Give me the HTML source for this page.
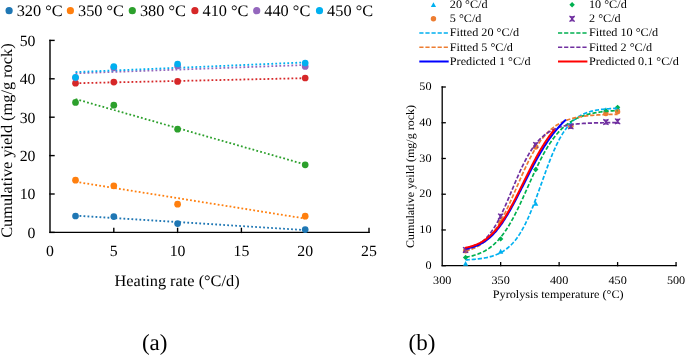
<!DOCTYPE html>
<html><head><meta charset="utf-8"><title>Cumulative yield charts</title>
<style>
html,body{margin:0;padding:0;background:#fff;}
body{width:685px;height:355px;overflow:hidden;font-family:"Liberation Serif",serif;}
svg{display:block;will-change:transform;text-rendering:geometricPrecision;}
</style></head><body>
<svg width="685" height="355" viewBox="0 0 685 355">
<rect width="685" height="355" fill="#fff"/>
<g stroke="#000" stroke-width="1.4" fill="none" stroke-linecap="square">
<path d="M50.0,40.40 V232.4 H369.00"/>
<path d="M50.0,232.40 h4"/>
<path d="M50.0,194.00 h4"/>
<path d="M50.0,155.60 h4"/>
<path d="M50.0,117.20 h4"/>
<path d="M50.0,78.80 h4"/>
<path d="M50.0,40.40 h4"/>
<path d="M113.80,232.4 v-4"/>
<path d="M177.60,232.4 v-4"/>
<path d="M241.40,232.4 v-4"/>
<path d="M305.20,232.4 v-4"/>
<path d="M369.00,232.4 v-4"/>
</g>
<g font-family='"Liberation Serif", serif' font-size="15.5" fill="#000">
<text transform="translate(35.50,237.70) scale(1.02,1)" text-anchor="end">0</text>
<text transform="translate(35.50,199.30) scale(1.02,1)" text-anchor="end">10</text>
<text transform="translate(35.50,160.90) scale(1.02,1)" text-anchor="end">20</text>
<text transform="translate(35.50,122.50) scale(1.02,1)" text-anchor="end">30</text>
<text transform="translate(35.50,84.10) scale(1.02,1)" text-anchor="end">40</text>
<text transform="translate(35.50,45.70) scale(1.02,1)" text-anchor="end">50</text>
<text transform="translate(50.00,256.20) scale(1.02,1)" text-anchor="middle">0</text>
<text transform="translate(113.80,256.20) scale(1.02,1)" text-anchor="middle">5</text>
<text transform="translate(177.60,256.20) scale(1.02,1)" text-anchor="middle">10</text>
<text transform="translate(241.40,256.20) scale(1.02,1)" text-anchor="middle">15</text>
<text transform="translate(305.20,256.20) scale(1.02,1)" text-anchor="middle">20</text>
<text transform="translate(369.00,256.20) scale(1.02,1)" text-anchor="middle">25</text>
</g>
<text font-family='"Liberation Serif", serif' font-size="16" transform="translate(177.00,285.80) scale(1.02,1)" text-anchor="middle">Heating rate (°C/d)</text>
<text font-family='"Liberation Serif", serif' font-size="16" transform="translate(12.0,140.6) rotate(-90) scale(1.02,1)" text-anchor="middle">Cumulative yield (mg/g rock)</text>
<path d="M75.52,215.65 L305.20,230.05" stroke="#1f77b4" stroke-width="1.8" stroke-dasharray="1.8 2.2" fill="none"/>
<path d="M75.52,181.80 L305.20,218.54" stroke="#ff7f0e" stroke-width="1.8" stroke-dasharray="1.8 2.2" fill="none"/>
<path d="M75.52,99.04 L305.20,164.49" stroke="#2ca02c" stroke-width="1.8" stroke-dasharray="1.8 2.2" fill="none"/>
<path d="M75.52,83.22 L305.20,78.15" stroke="#d62728" stroke-width="1.8" stroke-dasharray="1.8 2.2" fill="none"/>
<path d="M75.52,73.30 L305.20,65.00" stroke="#9467bd" stroke-width="1.8" stroke-dasharray="1.8 2.2" fill="none"/>
<path d="M75.52,72.10 L305.20,62.40" stroke="#00b0f0" stroke-width="1.8" stroke-dasharray="1.8 2.2" fill="none"/>
<circle cx="75.52" cy="216.00" r="3.35" fill="#1f77b4"/>
<circle cx="113.80" cy="216.60" r="3.35" fill="#1f77b4"/>
<circle cx="177.60" cy="223.60" r="3.35" fill="#1f77b4"/>
<circle cx="305.20" cy="229.60" r="3.35" fill="#1f77b4"/>
<circle cx="75.52" cy="180.20" r="3.35" fill="#ff7f0e"/>
<circle cx="113.80" cy="185.80" r="3.35" fill="#ff7f0e"/>
<circle cx="177.60" cy="204.20" r="3.35" fill="#ff7f0e"/>
<circle cx="305.20" cy="216.20" r="3.35" fill="#ff7f0e"/>
<circle cx="75.52" cy="102.40" r="3.35" fill="#2ca02c"/>
<circle cx="113.80" cy="105.20" r="3.35" fill="#2ca02c"/>
<circle cx="177.60" cy="129.20" r="3.35" fill="#2ca02c"/>
<circle cx="305.20" cy="164.80" r="3.35" fill="#2ca02c"/>
<circle cx="75.52" cy="83.20" r="3.35" fill="#d62728"/>
<circle cx="113.80" cy="82.10" r="3.35" fill="#d62728"/>
<circle cx="177.60" cy="81.40" r="3.35" fill="#d62728"/>
<circle cx="305.20" cy="78.00" r="3.35" fill="#d62728"/>
<circle cx="75.52" cy="77.80" r="3.35" fill="#9467bd"/>
<circle cx="113.80" cy="67.80" r="3.35" fill="#9467bd"/>
<circle cx="177.60" cy="66.00" r="3.35" fill="#9467bd"/>
<circle cx="305.20" cy="66.40" r="3.35" fill="#9467bd"/>
<circle cx="75.52" cy="77.30" r="3.35" fill="#00b0f0"/>
<circle cx="113.80" cy="66.60" r="3.35" fill="#00b0f0"/>
<circle cx="177.60" cy="64.00" r="3.35" fill="#00b0f0"/>
<circle cx="305.20" cy="63.00" r="3.35" fill="#00b0f0"/>
<g font-family='"Liberation Serif", serif' font-size="16">
<circle cx="9.1" cy="10.7" r="3.6" fill="#1f77b4"/>
<text transform="translate(16.70,15.90) scale(1.02,1)">320 °C</text>
<circle cx="70.4" cy="10.7" r="3.6" fill="#ff7f0e"/>
<text transform="translate(78.00,15.90) scale(1.02,1)">350 °C</text>
<circle cx="132.3" cy="10.7" r="3.6" fill="#2ca02c"/>
<text transform="translate(139.90,15.90) scale(1.02,1)">380 °C</text>
<circle cx="194.9" cy="10.7" r="3.6" fill="#d62728"/>
<text transform="translate(202.50,15.90) scale(1.02,1)">410 °C</text>
<circle cx="256.7" cy="10.7" r="3.6" fill="#9467bd"/>
<text transform="translate(264.30,15.90) scale(1.02,1)">440 °C</text>
<circle cx="319.5" cy="10.7" r="3.6" fill="#00b0f0"/>
<text transform="translate(327.10,15.90) scale(1.02,1)">450 °C</text>
</g>
<text font-family='"Liberation Serif", serif' font-size="23" transform="translate(154.70,350.20) scale(1.0,1)" text-anchor="middle">(a)</text>
<text font-family='"Liberation Serif", serif' font-size="23" transform="translate(422.00,350.20) scale(1.0,1)" text-anchor="middle">(b)</text>
<g stroke="#000" stroke-width="1.3" fill="none" stroke-linecap="square">
<path d="M442.2,87.00 V265.7 H676.06"/>
<path d="M442.2,265.70 h3"/>
<path d="M442.2,229.96 h3"/>
<path d="M442.2,194.22 h3"/>
<path d="M442.2,158.48 h3"/>
<path d="M442.2,122.74 h3"/>
<path d="M442.2,87.00 h3"/>
<path d="M500.66,265.7 v-3"/>
<path d="M559.13,265.7 v-3"/>
<path d="M617.60,265.7 v-3"/>
<path d="M676.06,265.7 v-3"/>
</g>
<g font-family='"Liberation Serif", serif' font-size="11.5" fill="#000">
<text transform="translate(431.50,268.90) scale(1.06,1)" text-anchor="end">0</text>
<text transform="translate(431.50,233.16) scale(1.06,1)" text-anchor="end">10</text>
<text transform="translate(431.50,197.42) scale(1.06,1)" text-anchor="end">20</text>
<text transform="translate(431.50,161.68) scale(1.06,1)" text-anchor="end">30</text>
<text transform="translate(431.50,125.94) scale(1.06,1)" text-anchor="end">40</text>
<text transform="translate(431.50,90.20) scale(1.06,1)" text-anchor="end">50</text>
<text transform="translate(442.20,283.80) scale(1.06,1)" text-anchor="middle">300</text>
<text transform="translate(500.66,283.80) scale(1.06,1)" text-anchor="middle">350</text>
<text transform="translate(559.13,283.80) scale(1.06,1)" text-anchor="middle">400</text>
<text transform="translate(617.60,283.80) scale(1.06,1)" text-anchor="middle">450</text>
<text transform="translate(676.06,283.80) scale(1.06,1)" text-anchor="middle">500</text>
</g>
<text font-family='"Liberation Serif", serif' font-size="11.5" transform="translate(558.20,298.00) scale(1.06,1)" text-anchor="middle">Pyrolysis temperature (°C)</text>
<text font-family='"Liberation Serif", serif' font-size="11.5" transform="translate(414.2,176.5) rotate(-90) scale(1.043,1)" text-anchor="middle">Cumulative yeild (mg/g rock)</text>
<path d="M465.59,260.96 L468.19,265.86 L462.99,265.86Z" fill="#00b0f0"/>
<path d="M500.66,248.80 L503.26,253.70 L498.06,253.70Z" fill="#00b0f0"/>
<path d="M535.74,200.91 L538.34,205.81 L533.14,205.81Z" fill="#00b0f0"/>
<path d="M570.82,121.93 L573.42,126.83 L568.22,126.83Z" fill="#00b0f0"/>
<path d="M605.90,107.27 L608.50,112.17 L603.30,112.17Z" fill="#00b0f0"/>
<path d="M617.60,105.13 L620.20,110.03 L615.00,110.03Z" fill="#00b0f0"/>
<path d="M465.59,254.78 L468.29,257.48 L465.59,260.18 L462.89,257.48Z" fill="#00b050"/>
<path d="M500.66,236.19 L503.36,238.89 L500.66,241.59 L497.96,238.89Z" fill="#00b050"/>
<path d="M535.74,166.86 L538.44,169.56 L535.74,172.26 L533.04,169.56Z" fill="#00b050"/>
<path d="M570.82,122.18 L573.52,124.88 L570.82,127.58 L568.12,124.88Z" fill="#00b050"/>
<path d="M605.90,108.25 L608.60,110.95 L605.90,113.65 L603.20,110.95Z" fill="#00b050"/>
<path d="M617.60,104.67 L620.30,107.37 L617.60,110.07 L614.89,107.37Z" fill="#00b050"/>
<circle cx="465.59" cy="250.69" r="2.7" fill="#ed7d31"/>
<circle cx="500.66" cy="222.10" r="2.7" fill="#ed7d31"/>
<circle cx="535.74" cy="147.04" r="2.7" fill="#ed7d31"/>
<circle cx="570.82" cy="126.31" r="2.7" fill="#ed7d31"/>
<circle cx="605.90" cy="113.45" r="2.7" fill="#ed7d31"/>
<circle cx="617.60" cy="111.66" r="2.7" fill="#ed7d31"/>
<path d="M462.89,247.27 Q465.59,248.77 468.29,247.27 M462.89,252.67 Q465.59,251.17 468.29,252.67 M463.09,247.47 L468.09,252.47 M468.09,247.47 L463.09,252.47" stroke="#7030a0" stroke-width="1.1" fill="none"/><path d="M465.59,248.27 V251.67" stroke="#7030a0" stroke-width="2"/>
<path d="M497.96,213.68 Q500.66,215.18 503.36,213.68 M497.96,219.08 Q500.66,217.58 503.36,219.08 M498.16,213.88 L503.16,218.88 M503.16,213.88 L498.16,218.88" stroke="#7030a0" stroke-width="1.1" fill="none"/><path d="M500.66,214.68 V218.08" stroke="#7030a0" stroke-width="2"/>
<path d="M533.04,142.20 Q535.74,143.70 538.44,142.20 M533.04,147.60 Q535.74,146.10 538.44,147.60 M533.24,142.40 L538.24,147.40 M538.24,142.40 L533.24,147.40" stroke="#7030a0" stroke-width="1.1" fill="none"/><path d="M535.74,143.20 V146.60" stroke="#7030a0" stroke-width="2"/>
<path d="M568.12,123.61 Q570.82,125.11 573.52,123.61 M568.12,129.01 Q570.82,127.51 573.52,129.01 M568.32,123.81 L573.32,128.81 M573.32,123.81 L568.32,128.81" stroke="#7030a0" stroke-width="1.1" fill="none"/><path d="M570.82,124.61 V128.01" stroke="#7030a0" stroke-width="2"/>
<path d="M603.20,119.33 Q605.90,120.83 608.60,119.33 M603.20,124.73 Q605.90,123.23 608.60,124.73 M603.40,119.53 L608.40,124.53 M608.40,119.53 L603.40,124.53" stroke="#7030a0" stroke-width="1.1" fill="none"/><path d="M605.90,120.33 V123.73" stroke="#7030a0" stroke-width="2"/>
<path d="M614.89,118.61 Q617.60,120.11 620.30,118.61 M614.89,124.01 Q617.60,122.51 620.30,124.01 M615.10,118.81 L620.10,123.81 M620.10,118.81 L615.10,123.81" stroke="#7030a0" stroke-width="1.1" fill="none"/><path d="M617.60,119.61 V123.01" stroke="#7030a0" stroke-width="2"/>
<path d="M465.59,259.91 L466.54,259.86 L467.50,259.80 L468.45,259.75 L469.41,259.69 L470.37,259.62 L471.32,259.55 L472.28,259.48 L473.23,259.40 L474.19,259.32 L475.15,259.23 L476.10,259.13 L477.06,259.03 L478.01,258.92 L478.97,258.81 L479.93,258.68 L480.88,258.55 L481.84,258.41 L482.79,258.26 L483.75,258.10 L484.71,257.93 L485.66,257.74 L486.62,257.55 L487.57,257.34 L488.53,257.12 L489.49,256.88 L490.44,256.63 L491.40,256.36 L492.35,256.08 L493.31,255.77 L494.27,255.45 L495.22,255.10 L496.18,254.73 L497.14,254.34 L498.09,253.92 L499.05,253.48 L500.00,253.01 L500.96,252.51 L501.92,251.97 L502.87,251.41 L503.83,250.81 L504.78,250.17 L505.74,249.50 L506.70,248.78 L507.65,248.02 L508.61,247.22 L509.56,246.37 L510.52,245.47 L511.48,244.52 L512.43,243.52 L513.39,242.46 L514.34,241.35 L515.30,240.18 L516.26,238.94 L517.21,237.64 L518.17,236.28 L519.12,234.85 L520.08,233.36 L521.04,231.79 L521.99,230.16 L522.95,228.45 L523.90,226.67 L524.86,224.83 L525.82,222.91 L526.77,220.92 L527.73,218.86 L528.68,216.73 L529.64,214.54 L530.60,212.28 L531.55,209.97 L532.51,207.59 L533.46,205.16 L534.42,202.68 L535.38,200.16 L536.33,197.59 L537.29,194.99 L538.24,192.36 L539.20,189.71 L540.16,187.04 L541.11,184.37 L542.07,181.69 L543.02,179.01 L543.98,176.34 L544.94,173.69 L545.89,171.06 L546.85,168.46 L547.80,165.89 L548.76,163.37 L549.72,160.89 L550.67,158.46 L551.63,156.09 L552.58,153.77 L553.54,151.52 L554.50,149.34 L555.45,147.22 L556.41,145.17 L557.37,143.20 L558.32,141.30 L559.28,139.47 L560.23,137.71 L561.19,136.03 L562.15,134.42 L563.10,132.89 L564.06,131.42 L565.01,130.03 L565.97,128.70 L566.93,127.44 L567.88,126.25 L568.84,125.12 L569.79,124.04 L570.75,123.03 L571.71,122.07 L572.66,121.17 L573.62,120.32 L574.57,119.52 L575.53,118.76 L576.49,118.05 L577.44,117.39 L578.40,116.76 L579.35,116.17 L580.31,115.62 L581.27,115.10 L582.22,114.62 L583.18,114.16 L584.13,113.74 L585.09,113.34 L586.05,112.97 L587.00,112.62 L587.96,112.29 L588.91,111.99 L589.87,111.70 L590.83,111.44 L591.78,111.19 L592.74,110.96 L593.69,110.74 L594.65,110.54 L595.61,110.35 L596.56,110.18 L597.52,110.01 L598.47,109.86 L599.43,109.72 L600.39,109.58 L601.34,109.46 L602.30,109.34 L603.25,109.24 L604.21,109.14 L605.17,109.04 L606.12,108.96 L607.08,108.88 L608.03,108.80 L608.99,108.73 L609.95,108.66 L610.90,108.60 L611.86,108.55 L612.81,108.49 L613.77,108.44 L614.73,108.40 L615.68,108.36 L616.64,108.32 L617.60,108.28" stroke="#00b0f0" stroke-width="1.7" stroke-dasharray="4.2 1.9" fill="none"/>
<path d="M465.59,257.26 L466.54,257.08 L467.50,256.90 L468.45,256.71 L469.41,256.51 L470.37,256.29 L471.32,256.06 L472.28,255.82 L473.23,255.56 L474.19,255.28 L475.15,254.99 L476.10,254.68 L477.06,254.35 L478.01,254.01 L478.97,253.64 L479.93,253.25 L480.88,252.84 L481.84,252.41 L482.79,251.95 L483.75,251.47 L484.71,250.96 L485.66,250.42 L486.62,249.85 L487.57,249.25 L488.53,248.62 L489.49,247.95 L490.44,247.25 L491.40,246.52 L492.35,245.75 L493.31,244.94 L494.27,244.09 L495.22,243.20 L496.18,242.27 L497.14,241.29 L498.09,240.28 L499.05,239.21 L500.00,238.10 L500.96,236.95 L501.92,235.74 L502.87,234.49 L503.83,233.19 L504.78,231.85 L505.74,230.45 L506.70,229.00 L507.65,227.51 L508.61,225.96 L509.56,224.37 L510.52,222.74 L511.48,221.05 L512.43,219.32 L513.39,217.55 L514.34,215.73 L515.30,213.88 L516.26,211.98 L517.21,210.05 L518.17,208.08 L519.12,206.09 L520.08,204.06 L521.04,202.01 L521.99,199.93 L522.95,197.83 L523.90,195.72 L524.86,193.60 L525.82,191.46 L526.77,189.32 L527.73,187.17 L528.68,185.02 L529.64,182.88 L530.60,180.74 L531.55,178.62 L532.51,176.50 L533.46,174.41 L534.42,172.33 L535.38,170.28 L536.33,168.25 L537.29,166.25 L538.24,164.28 L539.20,162.34 L540.16,160.44 L541.11,158.57 L542.07,156.75 L543.02,154.96 L543.98,153.21 L544.94,151.51 L545.89,149.85 L546.85,148.23 L547.80,146.66 L548.76,145.14 L549.72,143.66 L550.67,142.22 L551.63,140.83 L552.58,139.49 L553.54,138.19 L554.50,136.93 L555.45,135.72 L556.41,134.56 L557.37,133.43 L558.32,132.35 L559.28,131.31 L560.23,130.31 L561.19,129.35 L562.15,128.43 L563.10,127.55 L564.06,126.70 L565.01,125.89 L565.97,125.11 L566.93,124.37 L567.88,123.66 L568.84,122.98 L569.79,122.33 L570.75,121.70 L571.71,121.11 L572.66,120.55 L573.62,120.01 L574.57,119.49 L575.53,119.00 L576.49,118.53 L577.44,118.09 L578.40,117.66 L579.35,117.26 L580.31,116.87 L581.27,116.51 L582.22,116.16 L583.18,115.83 L584.13,115.51 L585.09,115.21 L586.05,114.93 L587.00,114.65 L587.96,114.40 L588.91,114.15 L589.87,113.92 L590.83,113.70 L591.78,113.49 L592.74,113.29 L593.69,113.10 L594.65,112.92 L595.61,112.75 L596.56,112.59 L597.52,112.44 L598.47,112.29 L599.43,112.15 L600.39,112.02 L601.34,111.90 L602.30,111.78 L603.25,111.67 L604.21,111.56 L605.17,111.46 L606.12,111.37 L607.08,111.28 L608.03,111.19 L608.99,111.11 L609.95,111.03 L610.90,110.96 L611.86,110.89 L612.81,110.82 L613.77,110.76 L614.73,110.70 L615.68,110.65 L616.64,110.59 L617.60,110.54" stroke="#00b050" stroke-width="1.7" stroke-dasharray="4.2 1.9" fill="none"/>
<path d="M465.59,250.94 L466.54,250.70 L467.50,250.45 L468.45,250.18 L469.41,249.89 L470.37,249.58 L471.32,249.26 L472.28,248.90 L473.23,248.53 L474.19,248.13 L475.15,247.70 L476.10,247.25 L477.06,246.77 L478.01,246.25 L478.97,245.71 L479.93,245.12 L480.88,244.51 L481.84,243.85 L482.79,243.16 L483.75,242.43 L484.71,241.65 L485.66,240.83 L486.62,239.96 L487.57,239.05 L488.53,238.09 L489.49,237.08 L490.44,236.01 L491.40,234.90 L492.35,233.73 L493.31,232.51 L494.27,231.23 L495.22,229.89 L496.18,228.50 L497.14,227.05 L498.09,225.55 L499.05,223.99 L500.00,222.37 L500.96,220.70 L501.92,218.98 L502.87,217.21 L503.83,215.38 L504.78,213.51 L505.74,211.59 L506.70,209.62 L507.65,207.62 L508.61,205.58 L509.56,203.50 L510.52,201.39 L511.48,199.26 L512.43,197.10 L513.39,194.92 L514.34,192.73 L515.30,190.53 L516.26,188.32 L517.21,186.11 L518.17,183.91 L519.12,181.70 L520.08,179.51 L521.04,177.34 L521.99,175.18 L522.95,173.04 L523.90,170.93 L524.86,168.85 L525.82,166.81 L526.77,164.79 L527.73,162.82 L528.68,160.88 L529.64,158.99 L530.60,157.15 L531.55,155.35 L532.51,153.59 L533.46,151.89 L534.42,150.23 L535.38,148.63 L536.33,147.08 L537.29,145.57 L538.24,144.12 L539.20,142.72 L540.16,141.37 L541.11,140.07 L542.07,138.82 L543.02,137.62 L543.98,136.47 L544.94,135.36 L545.89,134.30 L546.85,133.29 L547.80,132.31 L548.76,131.39 L549.72,130.50 L550.67,129.65 L551.63,128.84 L552.58,128.07 L553.54,127.34 L554.50,126.64 L555.45,125.97 L556.41,125.34 L557.37,124.74 L558.32,124.16 L559.28,123.62 L560.23,123.10 L561.19,122.61 L562.15,122.15 L563.10,121.70 L564.06,121.29 L565.01,120.89 L565.97,120.51 L566.93,120.15 L567.88,119.82 L568.84,119.50 L569.79,119.19 L570.75,118.91 L571.71,118.63 L572.66,118.38 L573.62,118.13 L574.57,117.90 L575.53,117.69 L576.49,117.48 L577.44,117.29 L578.40,117.10 L579.35,116.93 L580.31,116.77 L581.27,116.61 L582.22,116.46 L583.18,116.33 L584.13,116.20 L585.09,116.07 L586.05,115.96 L587.00,115.85 L587.96,115.74 L588.91,115.64 L589.87,115.55 L590.83,115.46 L591.78,115.38 L592.74,115.30 L593.69,115.23 L594.65,115.16 L595.61,115.09 L596.56,115.03 L597.52,114.97 L598.47,114.92 L599.43,114.87 L600.39,114.82 L601.34,114.77 L602.30,114.73 L603.25,114.69 L604.21,114.65 L605.17,114.61 L606.12,114.58 L607.08,114.54 L608.03,114.51 L608.99,114.48 L609.95,114.46 L610.90,114.43 L611.86,114.41 L612.81,114.38 L613.77,114.36 L614.73,114.34 L615.68,114.32 L616.64,114.30 L617.60,114.29" stroke="#ed7d31" stroke-width="1.7" stroke-dasharray="4.2 1.9" fill="none"/>
<path d="M465.59,249.81 L466.54,249.57 L467.50,249.31 L468.45,249.03 L469.41,248.73 L470.37,248.40 L471.32,248.05 L472.28,247.68 L473.23,247.27 L474.19,246.84 L475.15,246.38 L476.10,245.88 L477.06,245.35 L478.01,244.78 L478.97,244.17 L479.93,243.52 L480.88,242.82 L481.84,242.08 L482.79,241.29 L483.75,240.46 L484.71,239.57 L485.66,238.62 L486.62,237.63 L487.57,236.57 L488.53,235.45 L489.49,234.28 L490.44,233.04 L491.40,231.74 L492.35,230.37 L493.31,228.94 L494.27,227.45 L495.22,225.89 L496.18,224.26 L497.14,222.58 L498.09,220.83 L499.05,219.02 L500.00,217.15 L500.96,215.22 L501.92,213.24 L502.87,211.21 L503.83,209.13 L504.78,207.01 L505.74,204.85 L506.70,202.65 L507.65,200.43 L508.61,198.18 L509.56,195.91 L510.52,193.63 L511.48,191.34 L512.43,189.05 L513.39,186.76 L514.34,184.49 L515.30,182.22 L516.26,179.97 L517.21,177.75 L518.17,175.56 L519.12,173.40 L520.08,171.27 L521.04,169.19 L521.99,167.15 L522.95,165.16 L523.90,163.22 L524.86,161.34 L525.82,159.51 L526.77,157.73 L527.73,156.01 L528.68,154.35 L529.64,152.75 L530.60,151.21 L531.55,149.73 L532.51,148.30 L533.46,146.94 L534.42,145.63 L535.38,144.38 L536.33,143.19 L537.29,142.05 L538.24,140.96 L539.20,139.92 L540.16,138.94 L541.11,138.00 L542.07,137.12 L543.02,136.27 L543.98,135.47 L544.94,134.72 L545.89,134.00 L546.85,133.32 L547.80,132.68 L548.76,132.07 L549.72,131.50 L550.67,130.96 L551.63,130.45 L552.58,129.97 L553.54,129.52 L554.50,129.09 L555.45,128.69 L556.41,128.31 L557.37,127.95 L558.32,127.62 L559.28,127.30 L560.23,127.00 L561.19,126.73 L562.15,126.46 L563.10,126.22 L564.06,125.99 L565.01,125.77 L565.97,125.57 L566.93,125.37 L567.88,125.19 L568.84,125.03 L569.79,124.87 L570.75,124.72 L571.71,124.58 L572.66,124.45 L573.62,124.33 L574.57,124.21 L575.53,124.10 L576.49,124.00 L577.44,123.91 L578.40,123.82 L579.35,123.74 L580.31,123.66 L581.27,123.59 L582.22,123.52 L583.18,123.45 L584.13,123.39 L585.09,123.34 L586.05,123.28 L587.00,123.24 L587.96,123.19 L588.91,123.15 L589.87,123.10 L590.83,123.07 L591.78,123.03 L592.74,123.00 L593.69,122.97 L594.65,122.94 L595.61,122.91 L596.56,122.88 L597.52,122.86 L598.47,122.84 L599.43,122.82 L600.39,122.80 L601.34,122.78 L602.30,122.76 L603.25,122.74 L604.21,122.73 L605.17,122.72 L606.12,122.70 L607.08,122.69 L608.03,122.68 L608.99,122.67 L609.95,122.66 L610.90,122.65 L611.86,122.64 L612.81,122.63 L613.77,122.62 L614.73,122.61 L615.68,122.61 L616.64,122.60 L617.60,122.60" stroke="#7030a0" stroke-width="1.7" stroke-dasharray="4.2 1.9" fill="none"/>
<path d="M465.59,248.56 L466.22,248.45 L466.85,248.34 L467.48,248.23 L468.11,248.10 L468.74,247.97 L469.38,247.84 L470.01,247.69 L470.64,247.54 L471.27,247.38 L471.90,247.21 L472.53,247.04 L473.17,246.85 L473.80,246.66 L474.43,246.45 L475.06,246.24 L475.69,246.01 L476.33,245.78 L476.96,245.53 L477.59,245.27 L478.22,245.00 L478.85,244.72 L479.48,244.42 L480.12,244.11 L480.75,243.79 L481.38,243.46 L482.01,243.11 L482.64,242.74 L483.27,242.36 L483.91,241.97 L484.54,241.56 L485.17,241.14 L485.80,240.69 L486.43,240.24 L487.06,239.76 L487.70,239.27 L488.33,238.76 L488.96,238.24 L489.59,237.69 L490.22,237.13 L490.85,236.55 L491.49,235.96 L492.12,235.34 L492.75,234.70 L493.38,234.05 L494.01,233.38 L494.64,232.69 L495.28,231.98 L495.91,231.25 L496.54,230.50 L497.17,229.73 L497.80,228.95 L498.44,228.14 L499.07,227.32 L499.70,226.47 L500.33,225.61 L500.96,224.73 L501.59,223.84 L502.23,222.92 L502.86,221.99 L503.49,221.04 L504.12,220.07 L504.75,219.09 L505.38,218.09 L506.02,217.07 L506.65,216.04 L507.28,214.99 L507.91,213.93 L508.54,212.86 L509.17,211.77 L509.81,210.66 L510.44,209.55 L511.07,208.42 L511.70,207.28 L512.33,206.13 L512.96,204.97 L513.60,203.79 L514.23,202.61 L514.86,201.42 L515.49,200.22 L516.12,199.02 L516.76,197.81 L517.39,196.59 L518.02,195.36 L518.65,194.13 L519.28,192.90 L519.91,191.66 L520.55,190.42 L521.18,189.17 L521.81,187.92 L522.44,186.68 L523.07,185.43 L523.70,184.18 L524.34,182.93 L524.97,181.68 L525.60,180.44 L526.23,179.19 L526.86,177.95 L527.49,176.71 L528.13,175.48 L528.76,174.25 L529.39,173.02 L530.02,171.80 L530.65,170.59 L531.28,169.38 L531.92,168.18 L532.55,166.99 L533.18,165.80 L533.81,164.62 L534.44,163.45 L535.07,162.29 L535.71,161.13 L536.34,159.99 L536.97,158.85 L537.60,157.73 L538.23,156.62 L538.87,155.51 L539.50,154.42 L540.13,153.34 L540.76,152.27 L541.39,151.21 L542.02,150.16 L542.66,149.13 L543.29,148.10 L543.92,147.09 L544.55,146.09 L545.18,145.10 L545.81,144.13 L546.45,143.17 L547.08,142.22 L547.71,141.28 L548.34,140.36 L548.97,139.45 L549.60,138.55 L550.24,137.66 L550.87,136.79 L551.50,135.93 L552.13,135.08 L552.76,134.25 L553.39,133.43 L554.03,132.62 L554.66,131.83 L555.29,131.05 L555.92,130.28 L556.55,129.52 L557.18,128.78 L557.82,128.04 L558.45,127.32 L559.08,126.62 L559.71,125.92 L560.34,125.24 L560.98,124.57 L561.61,123.91 L562.24,123.26 L562.87,122.63 L563.50,122.01 L564.13,121.39 L564.77,120.79 L565.40,120.20 L566.03,119.63" stroke="#0000ff" stroke-width="2" fill="none"/>
<path d="M465.00,247.87 L465.56,247.76 L466.13,247.65 L466.69,247.53 L467.25,247.40 L467.82,247.28 L468.38,247.14 L468.94,247.00 L469.51,246.86 L470.07,246.71 L470.63,246.55 L471.20,246.39 L471.76,246.22 L472.32,246.04 L472.89,245.86 L473.45,245.67 L474.01,245.47 L474.58,245.27 L475.14,245.06 L475.70,244.84 L476.27,244.61 L476.83,244.37 L477.39,244.13 L477.96,243.87 L478.52,243.61 L479.08,243.34 L479.65,243.06 L480.21,242.76 L480.77,242.46 L481.34,242.15 L481.90,241.83 L482.46,241.49 L483.03,241.15 L483.59,240.79 L484.15,240.43 L484.72,240.05 L485.28,239.66 L485.84,239.25 L486.41,238.84 L486.97,238.41 L487.53,237.97 L488.10,237.52 L488.66,237.05 L489.22,236.57 L489.79,236.08 L490.35,235.57 L490.91,235.05 L491.48,234.51 L492.04,233.96 L492.60,233.40 L493.17,232.82 L493.73,232.22 L494.29,231.62 L494.86,230.99 L495.42,230.35 L495.98,229.70 L496.55,229.03 L497.11,228.35 L497.67,227.65 L498.24,226.94 L498.80,226.21 L499.36,225.46 L499.93,224.71 L500.49,223.93 L501.05,223.14 L501.62,222.34 L502.18,221.52 L502.74,220.69 L503.31,219.84 L503.87,218.98 L504.43,218.10 L505.00,217.21 L505.56,216.31 L506.12,215.39 L506.69,214.46 L507.25,213.52 L507.81,212.56 L508.38,211.60 L508.94,210.62 L509.50,209.62 L510.07,208.62 L510.63,207.60 L511.19,206.58 L511.76,205.54 L512.32,204.50 L512.88,203.44 L513.45,202.38 L514.01,201.31 L514.57,200.23 L515.14,199.14 L515.70,198.04 L516.26,196.94 L516.83,195.83 L517.39,194.71 L517.95,193.59 L518.52,192.47 L519.08,191.34 L519.64,190.21 L520.21,189.07 L520.77,187.93 L521.33,186.79 L521.90,185.64 L522.46,184.50 L523.02,183.35 L523.59,182.21 L524.15,181.06 L524.71,179.92 L525.28,178.77 L525.84,177.63 L526.40,176.49 L526.97,175.35 L527.53,174.21 L528.09,173.08 L528.66,171.95 L529.22,170.83 L529.78,169.71 L530.35,168.60 L530.91,167.49 L531.47,166.39 L532.04,165.29 L532.60,164.20 L533.16,163.12 L533.73,162.05 L534.29,160.98 L534.85,159.92 L535.42,158.87 L535.98,157.83 L536.54,156.79 L537.11,155.77 L537.67,154.75 L538.23,153.75 L538.80,152.75 L539.36,151.77 L539.92,150.79 L540.49,149.83 L541.05,148.87 L541.61,147.93 L542.18,147.00 L542.74,146.08 L543.30,145.17 L543.87,144.27 L544.43,143.38 L544.99,142.50 L545.56,141.64 L546.12,140.79 L546.68,139.94 L547.25,139.11 L547.81,138.30 L548.37,137.49 L548.94,136.70 L549.50,135.91 L550.06,135.14 L550.63,134.39 L551.19,133.64 L551.75,132.90 L552.32,132.18 L552.88,131.47 L553.44,130.77 L554.01,130.08 L554.57,129.40" stroke="#ff0000" stroke-width="2" fill="none"/>
<g font-family='"Liberation Serif", serif' font-size="11.5">
<path d="M433.45,2.20 L436.05,7.10 L430.85,7.10Z" fill="#00b0f0"/>
<text transform="translate(449.80,8.20) scale(1.06,1)">20 °C/d</text>
<path d="M572.10,2.10 L574.80,4.80 L572.10,7.50 L569.40,4.80Z" fill="#00b050"/>
<text transform="translate(589.00,8.20) scale(1.06,1)">10 °C/d</text>
<circle cx="433.45" cy="18.80" r="2.7" fill="#ed7d31"/>
<text transform="translate(449.80,22.20) scale(1.06,1)">5 °C/d</text>
<path d="M569.40,16.10 Q572.10,17.60 574.80,16.10 M569.40,21.50 Q572.10,20.00 574.80,21.50 M569.60,16.30 L574.60,21.30 M574.60,16.30 L569.60,21.30" stroke="#7030a0" stroke-width="1.1" fill="none"/><path d="M572.10,17.10 V20.50" stroke="#7030a0" stroke-width="2"/>
<text transform="translate(589.00,22.20) scale(1.06,1)">2 °C/d</text>
<path d="M419.3,32.9 h29.4" stroke="#00b0f0" stroke-width="1.5" stroke-dasharray="4.2 1.9" fill="none"/>
<text transform="translate(449.80,36.30) scale(1.06,1)">Fitted 20 °C/d</text>
<path d="M558.0,32.9 h29.4" stroke="#00b050" stroke-width="1.5" stroke-dasharray="4.2 1.9" fill="none"/>
<text transform="translate(589.00,36.30) scale(1.06,1)">Fitted 10 °C/d</text>
<path d="M419.3,47.3 h29.4" stroke="#ed7d31" stroke-width="1.5" stroke-dasharray="4.2 1.9" fill="none"/>
<text transform="translate(449.80,50.70) scale(1.06,1)">Fitted 5 °C/d</text>
<path d="M558.0,47.3 h29.4" stroke="#7030a0" stroke-width="1.5" stroke-dasharray="4.2 1.9" fill="none"/>
<text transform="translate(589.00,50.70) scale(1.06,1)">Fitted 2 °C/d</text>
<path d="M419.3,61.5 h29.4" stroke="#0000ff" stroke-width="2"  fill="none"/>
<text transform="translate(449.80,64.90) scale(1.06,1)">Predicted 1 °C/d</text>
<path d="M558.0,61.5 h29.4" stroke="#ff0000" stroke-width="2"  fill="none"/>
<text transform="translate(589.00,64.90) scale(1.06,1)">Predicted 0.1 °C/d</text>
</g>
</svg>
</body></html>
